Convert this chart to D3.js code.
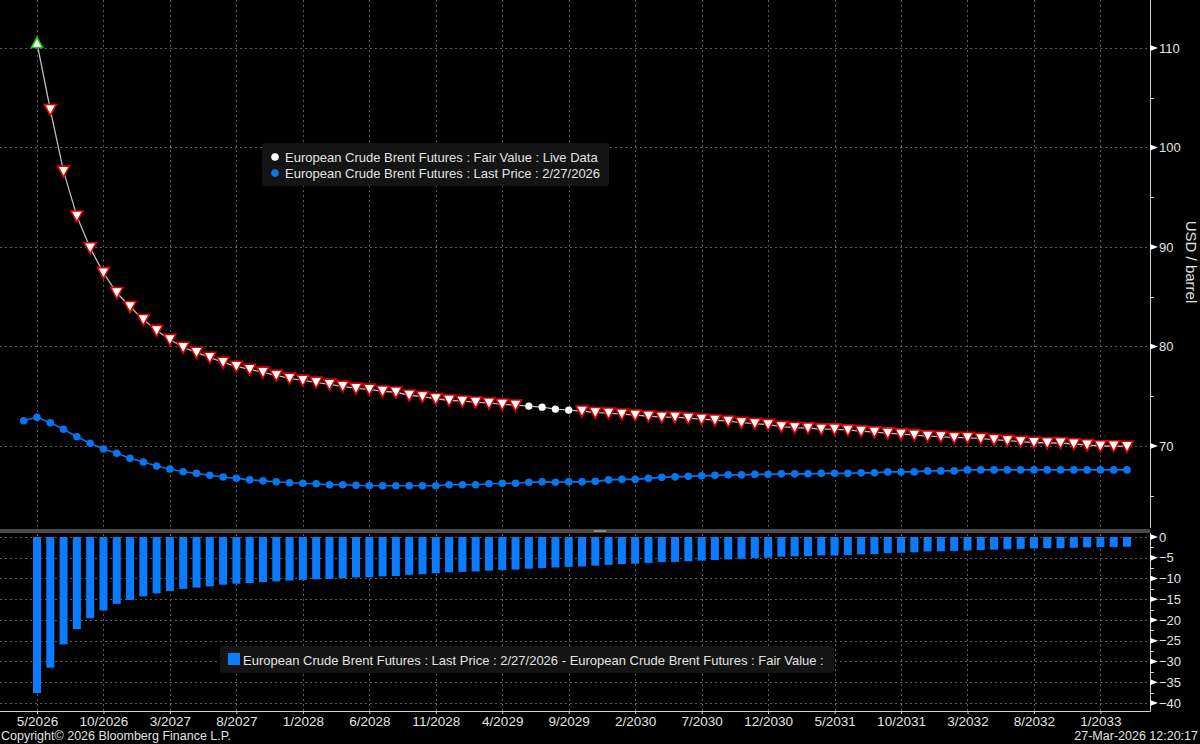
<!DOCTYPE html>
<html>
<head>
<meta charset="utf-8">
<script src="https://cdn.jsdelivr.net/npm/d3@7"></script>
<style>
  body { margin: 0; background: #000; }
  svg { display: block; font-family: "Liberation Sans", Arial, sans-serif; }
</style>
</head>
<body>
<svg id="chart" width="1200" height="744"></svg>
<script>
// contracts: last price runs Apr 2026 .. Mar 2033, fair value May 2026 .. Mar 2033
var lastStart = "4/2026";
var fairStart = "5/2026";

var lastPrice = [
  72.54, 72.88, 72.34, 71.68, 70.93, 70.27, 69.70, 69.27, 68.76, 68.39,
  67.99, 67.69, 67.42, 67.25, 67.05, 66.88, 66.75, 66.60, 66.50, 66.40,
  66.30, 66.25, 66.20, 66.10, 66.10, 66.05, 66.00, 66.00, 66.00, 66.00,
  66.00, 66.00, 66.10, 66.10, 66.10, 66.20, 66.25, 66.25, 66.35, 66.40,
  66.35, 66.40, 66.40, 66.45, 66.60, 66.65, 66.65, 66.75, 66.85, 66.90,
  66.95, 67.00, 67.05, 67.10, 67.10, 67.15, 67.15, 67.20, 67.20, 67.20,
  67.25, 67.25, 67.25, 67.30, 67.30, 67.40, 67.40, 67.40, 67.50, 67.50,
  67.50, 67.60, 67.60, 67.60, 67.60, 67.60, 67.60, 67.60, 67.60, 67.60,
  67.60, 67.60, 67.60, 67.60
];

var fairValue = [
  110.5, 103.8, 97.6, 93.1, 89.9, 87.4, 85.4, 84.0, 82.7, 81.6,
  80.7, 79.9, 79.4, 78.9, 78.4, 78.0, 77.7, 77.4, 77.1, 76.8,
  76.6, 76.4, 76.2, 76.0, 75.8, 75.7, 75.5, 75.4, 75.1, 74.96,
  74.75, 74.6, 74.5, 74.4, 74.3, 74.2, 74.1, 74.0, 73.9, 73.7,
  73.6, 73.5, 73.35, 73.3, 73.2, 73.1, 73.0, 72.9, 72.9, 72.8,
  72.7, 72.6, 72.5, 72.35, 72.25, 72.15, 71.95, 71.85, 71.8, 71.7,
  71.7, 71.6, 71.5, 71.4, 71.3, 71.2, 71.1, 71.0, 70.95, 70.85,
  70.85, 70.75, 70.65, 70.55, 70.45, 70.35, 70.3, 70.3, 70.2, 70.1,
  70.0, 70.0, 69.95
];

// last price minus fair value
var spread = [
  -37.6, -31.5, -25.9, -22.2, -19.6, -17.7, -16.1, -15.2, -14.3, -13.6,
  -13.0, -12.5, -12.2, -11.9, -11.5, -11.25, -11.1, -10.9, -10.7, -10.5,
  -10.35, -10.2, -10.1, -9.9, -9.75, -9.7, -9.5, -9.4, -9.1, -8.96,
  -8.75, -8.5, -8.4, -8.3, -8.1, -7.95, -7.85, -7.65, -7.5, -7.35,
  -7.2, -7.1, -6.9, -6.7, -6.55, -6.45, -6.25, -6.05, -6.0, -5.85,
  -5.7, -5.55, -5.4, -5.25, -5.1, -5.0, -4.75, -4.65, -4.6, -4.45,
  -4.45, -4.35, -4.2, -4.1, -3.9, -3.8, -3.7, -3.5, -3.45, -3.35,
  -3.25, -3.15, -3.05, -2.95, -2.85, -2.75, -2.7, -2.7, -2.6, -2.5,
  -2.4, -2.4, -2.35
];

// fair value points: first one flagged up, these ones unflagged, rest flagged down
var fvUp = [0];
var fvPlain = [37, 38, 39, 40];

var priceTicks = [70, 80, 90, 100, 110];
var priceMinor = [65, 75, 85, 95, 105];
var spreadTicks = [0, -5, -10, -15, -20, -25, -30, -35, -40];
var monthTicks = ["5/2026", "10/2026", "3/2027", "8/2027", "1/2028", "6/2028",
  "11/2028", "4/2029", "9/2029", "2/2030", "7/2030", "12/2030", "5/2031",
  "10/2031", "3/2032", "8/2032", "1/2033"];

var legendTop = [
  {label: "European Crude Brent Futures : Fair Value : Live Data", color: "#ffffff"},
  {label: "European Crude Brent Futures : Last Price : 2/27/2026", color: "#0a73ee"}
];
var legendBottom = "European Crude Brent Futures : Last Price : 2/27/2026 - European Crude Brent Futures : Fair Value :";

// month label "m/yyyy" -> month index counted from Jan 2026
function monthIdx(s) {
  var p = s.split("/");
  return (+p[1] - 2026) * 12 + (+p[0] - 1);
}

var svg = d3.select("#chart");
var plotR = 1150;
var textCol = "#e2e2e2";
var gridCol = "#5c5c5c";
var fontFam = "'Liberation Sans', Arial, sans-serif";

svg.append("rect").attr("width", 1200).attr("height", 744).attr("fill", "#000");

var x = d3.scaleLinear().domain([1.217, 87.73]).range([0, plotR]);
var yTop = d3.scaleLinear().domain([61.76, 114.82]).range([528, 0]);
var yBot = d3.scaleLinear().domain([-41.93, 0.72]).range([711, 534]);

var lastData = lastPrice.map(function(v, i) { return {m: monthIdx(lastStart) + i, v: v}; });
var fairData = fairValue.map(function(v, i) { return {m: monthIdx(fairStart) + i, v: v, i: i}; });
var spreadData = spread.map(function(v, i) { return {m: monthIdx(fairStart) + i, v: v}; });

// grid
var grid = svg.append("g").attr("stroke", gridCol).attr("stroke-dasharray", "2,3").attr("stroke-width", 1);
monthTicks.forEach(function(t) {
  var xx = Math.round(x(monthIdx(t))) + 0.5;
  grid.append("line").attr("x1", xx).attr("x2", xx).attr("y1", 0).attr("y2", 528);
  grid.append("line").attr("x1", xx).attr("x2", xx).attr("y1", 534).attr("y2", 711);
});
priceTicks.forEach(function(t) {
  var yy = Math.round(yTop(t)) + 0.5;
  grid.append("line").attr("x1", 0).attr("x2", plotR).attr("y1", yy).attr("y2", yy);
});
spreadTicks.forEach(function(t) {
  var yy = Math.round(yBot(t)) + 0.5;
  grid.append("line").attr("x1", 0).attr("x2", plotR).attr("y1", yy).attr("y2", yy);
});

// panel separator
svg.append("rect").attr("x", 0).attr("y", 529).attr("width", plotR).attr("height", 4).attr("fill", "#4a4a4a");
svg.append("rect").attr("x", 594).attr("y", 530).attr("width", 12).attr("height", 2).attr("fill", "#8a8a8a");

// bars
svg.append("g").selectAll("rect").data(spreadData).enter().append("rect")
  .attr("x", function(d) { return x(d.m) - 4; })
  .attr("y", yBot(0))
  .attr("width", 8)
  .attr("height", function(d) { return yBot(d.v) - yBot(0); })
  .attr("fill", "#0b7bff");

// last price line + dots
var line = d3.line().x(function(d) { return x(d.m); }).y(function(d) { return yTop(d.v); });
svg.append("path").datum(lastData).attr("d", line)
  .attr("fill", "none").attr("stroke", "#0a73ee").attr("stroke-width", 1.6);
svg.append("g").selectAll("circle").data(lastData).enter().append("circle")
  .attr("cx", function(d) { return x(d.m); })
  .attr("cy", function(d) { return yTop(d.v); })
  .attr("r", 3.8)
  .attr("fill", "#0a73ee");

// fair value line + markers
svg.append("path").datum(fairData).attr("d", line)
  .attr("fill", "none").attr("stroke", "#bdbdbd").attr("stroke-width", 1.3);
var fv = svg.append("g").selectAll("g").data(fairData).enter().append("g")
  .attr("transform", function(d) { return "translate(" + x(d.m) + "," + yTop(d.v) + ")"; });
fv.each(function(d) {
  var g = d3.select(this);
  if (fvUp.indexOf(d.i) >= 0) {
    g.append("path").attr("d", "M0,-5.5L5.5,4.5L-5.5,4.5Z")
      .attr("fill", "#fff").attr("stroke", "#19c819").attr("stroke-width", 1.6);
  } else if (fvPlain.indexOf(d.i) >= 0) {
    g.append("circle").attr("r", 3.6).attr("fill", "#fff");
  } else {
    g.append("path").attr("d", "M-6,-5.2L6,-5.2L0,5.8Z")
      .attr("fill", "#fff").attr("stroke", "#e00000").attr("stroke-width", 1.6);
  }
});

// right axes
var axTop = svg.append("g").attr("transform", "translate(" + plotR + ",0)")
  .call(d3.axisRight(yTop).tickValues(priceTicks).tickSize(0).tickPadding(9));
var axBot = svg.append("g").attr("transform", "translate(" + plotR + ",0)")
  .call(d3.axisRight(yBot).tickValues(spreadTicks).tickSize(0).tickPadding(9));
[axTop, axBot].forEach(function(ax) {
  ax.select(".domain").attr("stroke", "#d0d0d0");
  ax.selectAll("text").attr("fill", textCol).attr("font-size", 13).attr("font-family", fontFam);
});
axTop.select(".domain").attr("d", "M0.5,0V528");
axBot.select(".domain").attr("d", "M0.5,533V711.5");

var arrows = svg.append("g").attr("fill", "#fff");
priceTicks.forEach(function(t) {
  var yy = yTop(t);
  arrows.append("path").attr("d", "M" + plotR + "," + (yy - 3) + "L" + (plotR + 8) + "," + yy + "L" + plotR + "," + (yy + 3) + "Z");
});
spreadTicks.forEach(function(t) {
  var yy = yBot(t);
  arrows.append("path").attr("d", "M" + plotR + "," + (yy - 3) + "L" + (plotR + 8) + "," + yy + "L" + plotR + "," + (yy + 3) + "Z");
});
var minor = svg.append("g").attr("stroke", "#d0d0d0");
priceMinor.forEach(function(t) {
  var yy = Math.round(yTop(t)) + 0.5;
  minor.append("line").attr("x1", plotR).attr("x2", plotR + 4).attr("y1", yy).attr("y2", yy);
});
spreadTicks.slice(0, -1).forEach(function(t) {
  var yy = Math.round(yBot(t - 2.5)) + 0.5;
  minor.append("line").attr("x1", plotR).attr("x2", plotR + 4).attr("y1", yy).attr("y2", yy);
});

svg.append("text").attr("transform", "translate(1186,262) rotate(90)")
  .attr("text-anchor", "middle").attr("font-size", 15).attr("fill", textCol)
  .text("USD / barrel");

// bottom axis
var axX = svg.append("g").attr("transform", "translate(0,711)")
  .call(d3.axisBottom(x).tickValues(monthTicks.map(monthIdx))
    .tickFormat(function(d, i) { return monthTicks[i]; })
    .tickSize(3).tickPadding(2));
axX.select(".domain").attr("stroke", "#d0d0d0").attr("d", "M0,0.5H" + (plotR + 0.5));
axX.selectAll("line").attr("stroke", "#d0d0d0");
axX.selectAll("text").attr("fill", textCol).attr("font-size", 13.5).attr("font-family", fontFam);

// legends
var lt = svg.append("g");
lt.append("rect").attr("x", 262).attr("y", 143).attr("width", 347).attr("height", 43)
  .attr("rx", 3).attr("fill", "#141414");
lt.selectAll("g").data(legendTop).enter().append("g")
  .attr("transform", function(d, i) { return "translate(275," + (157 + i * 16) + ")"; })
  .each(function(d) {
    var g = d3.select(this);
    g.append("circle").attr("r", 3.8).attr("fill", d.color);
    g.append("text").attr("x", 10).attr("dy", "0.35em").attr("font-size", 13)
      .attr("fill", textCol).text(d.label);
  });

var lb = svg.append("g");
lb.append("rect").attr("x", 220).attr("y", 646).attr("width", 614).attr("height", 27)
  .attr("rx", 3).attr("fill", "#141414");
lb.append("rect").attr("x", 228).attr("y", 653).attr("width", 12).attr("height", 12).attr("fill", "#0b7bff");
lb.append("text").attr("x", 243).attr("y", 660).attr("dy", "0.35em").attr("font-size", 13)
  .attr("fill", textCol).text(legendBottom);

// footer
svg.append("text").attr("x", 1).attr("y", 740).attr("font-size", 12.5).attr("fill", textCol)
  .text("Copyright\u00a9 2026 Bloomberg Finance L.P.");
svg.append("text").attr("x", 1198).attr("y", 740).attr("text-anchor", "end").attr("font-size", 12.5)
  .attr("fill", textCol).text("27-Mar-2026 12:20:17");
</script>
</body>
</html>
